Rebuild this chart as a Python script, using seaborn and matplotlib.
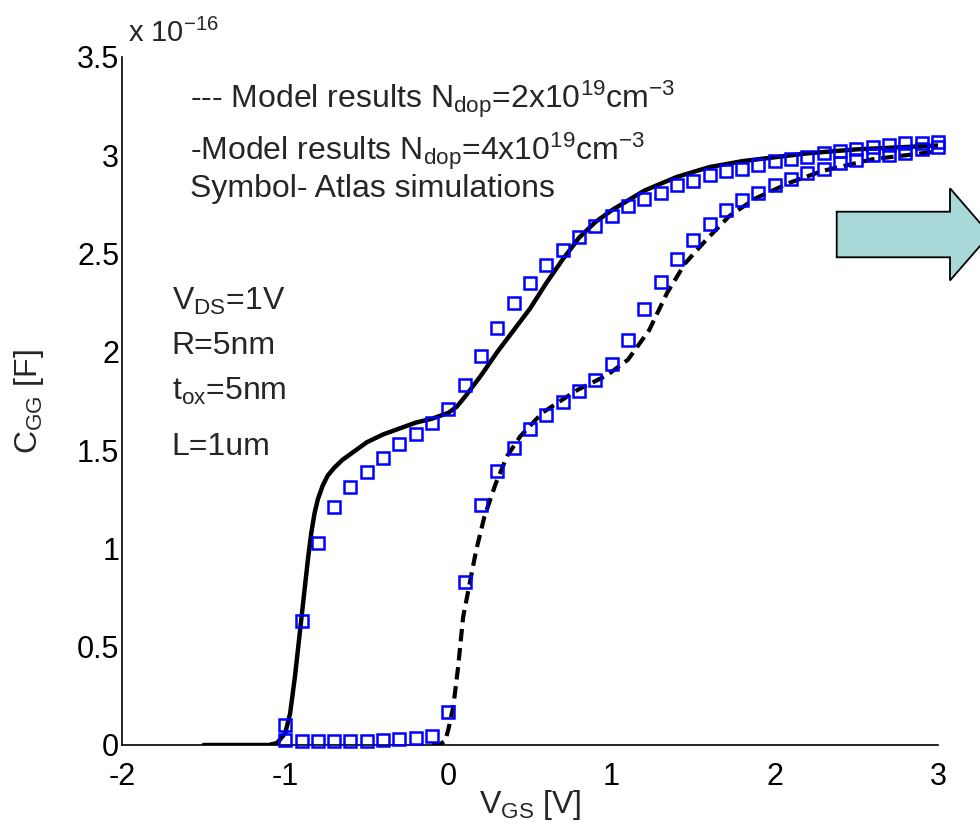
import numpy as np
import pandas as pd
import matplotlib
matplotlib.use("Agg")
import matplotlib.pyplot as plt
import seaborn as sns
from matplotlib.patches import Polygon

# ---- data (C_GG in units of 1e-16 F) ----
vg_sym = [round(-1.0 + 0.1 * i, 1) for i in range(41)]
sym_4e19 = [0.10, 0.63, 1.03, 1.21, 1.31, 1.39, 1.46, 1.53, 1.58, 1.64,
            1.71, 1.83, 1.98, 2.12, 2.25, 2.35, 2.44, 2.52, 2.585, 2.64,
            2.69, 2.74, 2.78, 2.81, 2.85, 2.87, 2.90, 2.92, 2.93, 2.95,
            2.97, 2.98, 2.99, 3.01, 3.02, 3.03, 3.04, 3.05, 3.06, 3.06, 3.07]
sym_2e19 = [0.025, 0.02, 0.02, 0.02, 0.02, 0.02, 0.025, 0.03, 0.035, 0.045,
            0.17, 0.83, 1.22, 1.395, 1.51, 1.61, 1.68, 1.746, 1.80, 1.857,
            1.94, 2.06, 2.22, 2.355, 2.47, 2.57, 2.65, 2.72, 2.77, 2.81,
            2.85, 2.88, 2.91, 2.93, 2.96, 2.975, 3.0, 3.0, 3.01, 3.03, 3.04]

vg_m4 = [-1.5, -1.1, -1.05, -1.0, -0.97, -0.94, -0.92, -0.9, -0.88, -0.86,
         -0.84, -0.82, -0.80, -0.77, -0.74, -0.70, -0.65, -0.6, -0.5, -0.4,
         -0.3, -0.2, -0.1, 0.0, 0.05, 0.1, 0.2, 0.3, 0.4, 0.5, 0.6, 0.7, 0.8,
         0.9, 1.0, 1.2, 1.4, 1.6, 1.8, 2.0, 2.2, 2.5, 3.0]
model_4e19 = [0.0, 0.0, 0.01, 0.06, 0.16, 0.35, 0.5, 0.65, 0.8, 0.95,
              1.08, 1.18, 1.25, 1.32, 1.37, 1.41, 1.45, 1.48, 1.54, 1.58,
              1.61, 1.64, 1.66, 1.69, 1.72, 1.77, 1.88, 2.0, 2.11, 2.22, 2.35,
              2.47, 2.58, 2.66, 2.72, 2.82, 2.89, 2.94, 2.97, 2.99, 3.01,
              3.03, 3.05]

vg_m2 = [-0.1, -0.05, -0.02, 0.0, 0.03, 0.06, 0.09, 0.13, 0.17, 0.22, 0.29,
         0.36, 0.44, 0.575, 0.79, 0.97, 1.10, 1.23, 1.34, 1.45, 1.58, 1.72,
         1.88, 2.09, 2.29, 2.60, 3.0]
model_2e19 = [0.0, 0.005, 0.02, 0.08, 0.195, 0.40, 0.65, 0.82, 0.99, 1.16,
              1.33, 1.47, 1.57, 1.69, 1.806, 1.88, 1.96, 2.11, 2.30, 2.45,
              2.57, 2.69, 2.78, 2.86, 2.92, 2.98, 3.02]

x_ticks = [-2, -1, 0, 1, 2, 3]
y_ticks = [0, 0.5, 1, 1.5, 2, 2.5, 3, 3.5]
y_ticklabels = ["0", "0.5", "1", "1.5", "2", "2.5", "3", "3.5"]

sns.set_style("white")
FAM = ["Liberation Sans", "DejaVu Sans"]
plt.rcParams["font.family"] = FAM
plt.rcParams["mathtext.fontset"] = "custom"
plt.rcParams["mathtext.rm"] = "Liberation Sans"
plt.rcParams["mathtext.it"] = "Liberation Sans"

fig = plt.figure(figsize=(9.8, 8.26), dpi=100)
ax = fig.add_axes([122 / 980, 1 - 745 / 826, (938 - 122) / 980, (745 - 57) / 826])

df4 = pd.DataFrame({"x": vg_m4, "y": model_4e19})
df2 = pd.DataFrame({"x": vg_m2, "y": model_2e19})
sns.lineplot(data=df4, x="x", y="y", ax=ax, color="black", lw=3.2, sort=False)
sns.lineplot(data=df2, x="x", y="y", ax=ax, color="black", lw=3.0, sort=False,
             linestyle=(0, (3, 1.6)))

ds = pd.DataFrame({"x": vg_sym + vg_sym, "y": sym_4e19 + sym_2e19})
ax.plot(ds["x"], ds["y"], ls="none", marker="s", ms=8.5, mfc="none",
        mec="#0000ff", mew=1.8, clip_on=False, zorder=5)

ax.set_xlim(-2, 3)
ax.set_ylim(0, 3.5)
ax.set_xticks(x_ticks)
ax.set_xticklabels([str(t) for t in x_ticks])
ax.set_yticks(y_ticks)
ax.set_yticklabels(y_ticklabels)
ax.tick_params(direction="in", length=6, width=1, labelsize=22, colors="black")
ax.tick_params(axis="x", pad=12)
ax.tick_params(axis="y", pad=2)
for s in ["top", "right"]:
    ax.spines[s].set_visible(False)
for s in ["left", "bottom"]:
    ax.spines[s].set_color("black")
    ax.spines[s].set_linewidth(1.2)

ax.set_xlabel("V$_{\\mathregular{GS}}$ [V]", fontsize=23, labelpad=-3)
ax.set_ylabel("C$_{\\mathregular{GG}}$ [F]", fontsize=23, labelpad=22)

fs = 23
def dx(px):
    return (px - 449) / 163.3
def dy(py):
    return (745 - py) / 196.6

ax.text(dx(190), dy(108), "--- Model results N$_{\\mathregular{dop}}$=2x10$^{\\mathregular{19}}$cm$^{\\mathregular{-3}}$", fontsize=fs, va="baseline")
ax.text(dx(190), dy(160), "-Model results N$_{\\mathregular{dop}}$=4x10$^{\\mathregular{19}}$cm$^{\\mathregular{-3}}$", fontsize=fs, va="baseline")
ax.text(dx(190), dy(197), "Symbol- Atlas simulations", fontsize=fs, va="baseline")
ax.text(dx(172), dy(310), "V$_{\\mathregular{DS}}$=1V", fontsize=fs, va="baseline")
ax.text(dx(172), dy(354), "R=5nm", fontsize=fs, va="baseline")
ax.text(dx(172), dy(400), "t$_{\\mathregular{ox}}$=5nm", fontsize=fs, va="baseline")
ax.text(dx(172), dy(455), "L=1um", fontsize=fs, va="baseline")

fig.text(128 / 980, 1 - 42 / 826, "x 10$^{\\mathregular{-16}}$", fontsize=21, va="baseline")

pts_px = [(836.7, 211.7), (950, 211.7), (950, 188.3), (990, 234.5),
          (950, 280.5), (950, 257.3), (836.7, 257.3)]
poly = Polygon([(x / 980, 1 - y / 826) for x, y in pts_px], closed=True,
               transform=fig.transFigure, facecolor="#a8d8d8",
               edgecolor="black", lw=1.3, clip_on=False)
fig.add_artist(poly)

fig.savefig("out.png", dpi=100, facecolor="white")
